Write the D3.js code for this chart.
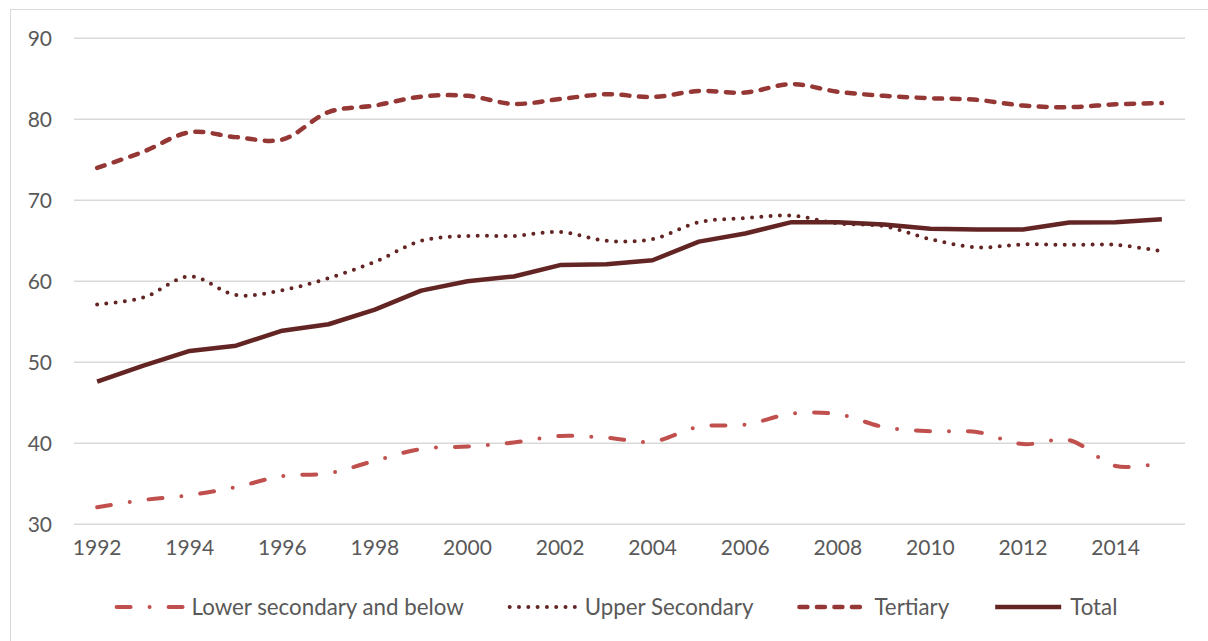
<!DOCTYPE html>
<html>
<head>
<meta charset="utf-8">
<script src="https://cdn.jsdelivr.net/npm/d3@7"></script>
<style>
  body { margin: 0; background: #fff; }
  text { font-family: Lato, "Open Sans", sans-serif; fill: #595959; }
</style>
</head>
<body>
<div id="viz-container"></div>
<script>
// Data
const years = [1992, 1993, 1994, 1995, 1996, 1997, 1998, 1999, 2000, 2001, 2002, 2003,
               2004, 2005, 2006, 2007, 2008, 2009, 2010, 2011, 2012, 2013, 2014, 2015];
const lowerSecondary = [32.1, 33.0, 33.6, 34.6, 35.95, 36.3, 37.85, 39.3, 39.6, 40.1, 40.9, 40.7,
                        40.2, 42.05, 42.3, 43.65, 43.6, 42.0, 41.5, 41.4, 39.9, 40.4, 37.2, 37.6];
const upperSecondary = [57.15, 58.0, 60.6, 58.3, 58.9, 60.4, 62.4, 65.0, 65.6, 65.6, 66.1, 65.0,
                        65.2, 67.3, 67.8, 68.1, 67.15, 66.8, 65.2, 64.2, 64.55, 64.5, 64.5, 63.7];
const tertiary = [74.0, 76.0, 78.4, 77.8, 77.5, 80.9, 81.7, 82.8, 82.9, 81.9, 82.5, 83.1,
                  82.75, 83.5, 83.3, 84.35, 83.4, 82.9, 82.6, 82.4, 81.7, 81.5, 81.85, 82.0];
const total = [47.6, 49.6, 51.4, 52.05, 53.9, 54.7, 56.5, 58.85, 60.0, 60.6, 62.0, 62.1,
               62.6, 64.9, 65.9, 67.3, 67.3, 67.0, 66.5, 66.4, 66.4, 67.25, 67.3, 67.65];
const yTicks = [30, 40, 50, 60, 70, 80, 90];
const xTickYears = years.filter((d, i) => i % 2 === 0);

const width = 1208, height = 641;

const seriesList = [
    {name: 'Lower secondary and below', values: lowerSecondary, color: '#C0504D',
     width: 4, dash: '14,19,0,19', smooth: true},
    {name: 'Upper Secondary', values: upperSecondary, color: '#632523',
     width: 4, dash: '0,9.3', smooth: true},
    {name: 'Tertiary', values: tertiary, color: '#953735',
     width: 4.5, dash: '8,9.5', smooth: true},
    {name: 'Total', values: total, color: '#632523',
     width: 4.5, dash: null, smooth: false}
];

const svg = d3.select('#viz-container').append('svg')
    .attr('width', width)
    .attr('height', height);

// Chart border
svg.append('rect')
    .attr('x', 10.5).attr('y', 9.5)
    .attr('width', 1210).attr('height', 640)
    .attr('fill', 'none')
    .attr('stroke', '#D9D9D9')
    .attr('stroke-width', 1);

const x = d3.scaleBand().domain(years).range([74, 1185]).padding(0);
const y = d3.scaleLinear().domain([30, 90]).range([524.3, 38.3]);
const cx = d => x(d) + x.bandwidth() / 2;

// Gridlines
svg.append('g').selectAll('line')
    .data(yTicks)
    .enter().append('line')
    .attr('x1', 74).attr('x2', 1185)
    .attr('y1', d => y(d)).attr('y2', d => y(d))
    .attr('stroke', '#D9D9D9')
    .attr('stroke-width', 1.4);

// Y axis labels
const yAxis = svg.append('g')
    .attr('transform', 'translate(52,0)')
    .call(d3.axisLeft(y).tickValues(yTicks).tickSize(0).tickPadding(0));
yAxis.select('.domain').remove();
yAxis.selectAll('text')
    .style('font-size', '21px')
    .attr('fill', '#595959')
    .attr('dy', '0.36em');

// X axis labels
const xAxis = svg.append('g')
    .attr('transform', 'translate(0,' + 539 + ')')
    .call(d3.axisBottom(x).tickValues(xTickYears).tickSize(0).tickPadding(0));
xAxis.select('.domain').remove();
xAxis.selectAll('text')
    .style('font-size', '21px')
    .attr('fill', '#595959')
    .attr('dy', '0.75em');

// Lines
const lineGroup = svg.append('g');
seriesList.forEach((s) => {
    const gen = d3.line()
        .x((d, i) => cx(years[i]))
        .y(d => y(d))
        .curve(s.smooth ? d3.curveCatmullRom.alpha(0.5) : d3.curveLinear);
    lineGroup.append('path')
        .datum(s.values)
        .attr('d', gen)
        .attr('fill', 'none')
        .attr('stroke', s.color)
        .attr('stroke-width', s.width)
        .attr('stroke-linecap', s.dash ? 'round' : 'butt')
        .attr('stroke-linejoin', 'round')
        .attr('stroke-dasharray', s.dash);
});

// Legend
const legend = svg.append('g').attr('transform', 'translate(0,607)');
const items = legend.selectAll('g.item')
    .data(seriesList)
    .enter().append('g')
    .attr('class', 'item');
items.append('line')
    .attr('x1', 2).attr('x2', 68)
    .attr('y1', 0).attr('y2', 0)
    .attr('stroke', d => d.color)
    .attr('stroke-width', d => d.width)
    .attr('stroke-linecap', d => d.dash ? 'round' : 'butt')
    .attr('stroke-dasharray', d => d.dash);
items.append('text')
    .attr('x', 77)
    .attr('dy', '0.36em')
    .style('font-size', '22.3px')
    .text(d => d.name);

let offsets = [], cursor = 0;
items.each(function () {
    offsets.push(cursor);
    const w = d3.select(this).select('text').node().getComputedTextLength();
    cursor += 77 + w + 44;
});
const legendWidth = cursor - 44;
const legendStart = 616 - legendWidth / 2;
items.attr('transform', (d, i) => 'translate(' + (legendStart + offsets[i]) + ',0)');
</script>
</body>
</html>
